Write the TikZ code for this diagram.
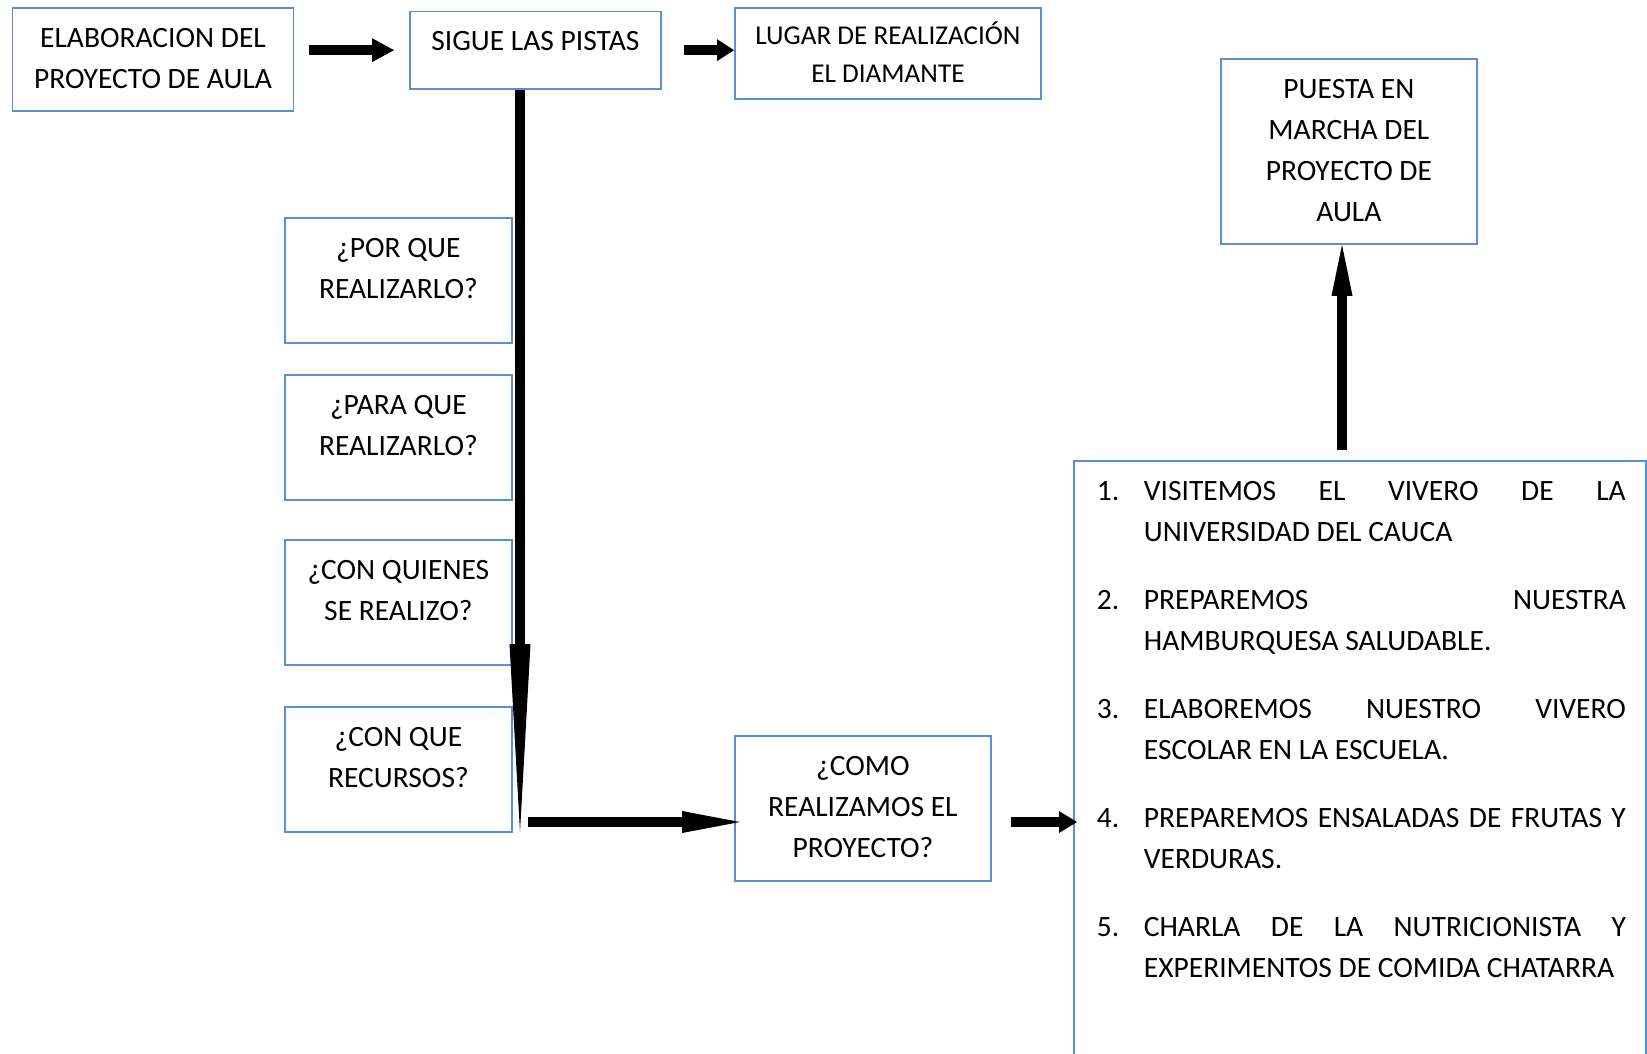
\documentclass[tikz,border=0pt]{standalone}
\usepackage{fontspec}
\setmainfont{Carlito}
\usetikzlibrary{arrows.meta}

\newcommand{\cajatexto}[4][39.3pt]{\parbox[c][#3][t]{#2}{\centering\rule{0pt}{#1}#4}}
\newcommand{\punto}[1]{\par\hangindent=47pt\hangafter=1\makebox[47pt][l]{#1}}

\tikzset{
    caja/.style={draw=caja_azul, line width=1.8pt, inner sep=0pt, anchor=north west},
    flecha/.style={draw=black, line width=10.5pt},
}

\begin{document}
\begin{tikzpicture}[x=1pt, y=-1pt, font=\fontsize{29.5pt}{41pt}\selectfont]
    \definecolor{caja_azul}{HTML}{5B8FD5}
    %\draw[help lines] (0,0) grid[step=50] (1647,1053);
    \useasboundingbox (0,0) rectangle (1647,1053);
    \clip (0,0) rectangle (1647,1053);

    \node[caja] (elab) at (11.6,7.4) {\cajatexto{281pt}{103pt}{ELABORACION DEL\\PROYECTO DE AULA}};
    \node[caja] (sigue) at (409,10.5) {\cajatexto{251pt}{77.5pt}{SIGUE LAS PISTAS}};
    \node[caja] (lugar) at (734,7.4) {\cajatexto[35.9pt]{306pt}{90.6pt}{\fontsize{27.2pt}{37.8pt}\selectfont LUGAR DE REALIZACIÓN\\EL DIAMANTE}};
    \node[caja] (puesta) at (1220,58) {\cajatexto{256pt}{185pt}{PUESTA EN\\MARCHA DEL\\PROYECTO DE\\AULA}};

    \node[caja] (porque) at (284,217) {\cajatexto{227pt}{125pt}{¿POR QUE\\REALIZARLO?}};
    \node[caja] (paraque) at (284,374) {\cajatexto{227pt}{125pt}{¿PARA QUE\\REALIZARLO?}};
    \node[caja] (quienes) at (284,539) {\cajatexto{227pt}{125pt}{¿CON QUIENES\\SE REALIZO?}};
    \node[caja] (recursos) at (284,706) {\cajatexto{227pt}{125pt}{¿CON QUE\\RECURSOS?}};

    \node[caja] (como) at (734,735) {\cajatexto{256pt}{145pt}{¿COMO\\REALIZAMOS EL\\PROYECTO?}};

    \node[caja] (lista) at (1073,460) {\parbox[c][640pt][t]{572pt}{%
        \leftskip=23pt \rightskip=20pt \parskip=27pt \parindent=0pt
        \tolerance=10000 \hbadness=10000
        \hangindent=47pt\hangafter=1\rule{0pt}{39.3pt}\makebox[47pt][l]{1.}VISITEMOS EL VIVERO DE LA\linebreak UNIVERSIDAD DEL CAUCA
        \punto{2.}PREPAREMOS NUESTRA\linebreak HAMBURQUESA SALUDABLE.
        \punto{3.}ELABOREMOS NUESTRO VIVERO\linebreak ESCOLAR EN LA ESCUELA.
        \punto{4.}PREPAREMOS ENSALADAS DE FRUTAS Y\linebreak VERDURAS.
        \punto{5.}CHARLA DE LA NUTRICIONISTA Y\linebreak EXPERIMENTOS DE COMIDA CHATARRA\par}};

    \coordinate (bajada) at (520,832);
    \coordinate (giro) at (528,822);
    \coordinate (subida) at (1342,450);

    \draw[flecha, -{Triangle[length=22pt, width=24pt, line width=0pt]}, shorten <=15pt, shorten >=15pt] (elab.east |- sigue.west) -- (sigue.west);
    \draw[flecha, -{Triangle[length=17pt, width=22pt, line width=0pt]}, shorten <=22pt] (sigue.east) -- (sigue.east -| lugar.west);
    \draw[flecha, -{Triangle[length=188pt, width=21pt, line width=0pt]}] (sigue.south -| bajada) -- (bajada);
    \draw[flecha, -{Triangle[length=58pt, width=22pt, line width=0pt]}, shorten >=-6pt] (giro) -- (giro -| como.west);
    \draw[flecha, -{Triangle[length=18pt, width=22pt, line width=0pt]}, shorten <=19pt, shorten >=-4pt] (giro -| como.east) -- (giro -| lista.west);
    \draw[flecha, -{Triangle[length=51pt, width=21pt, line width=0pt]}] (subida) -- (subida |- puesta.south);
\end{tikzpicture}
\end{document}
